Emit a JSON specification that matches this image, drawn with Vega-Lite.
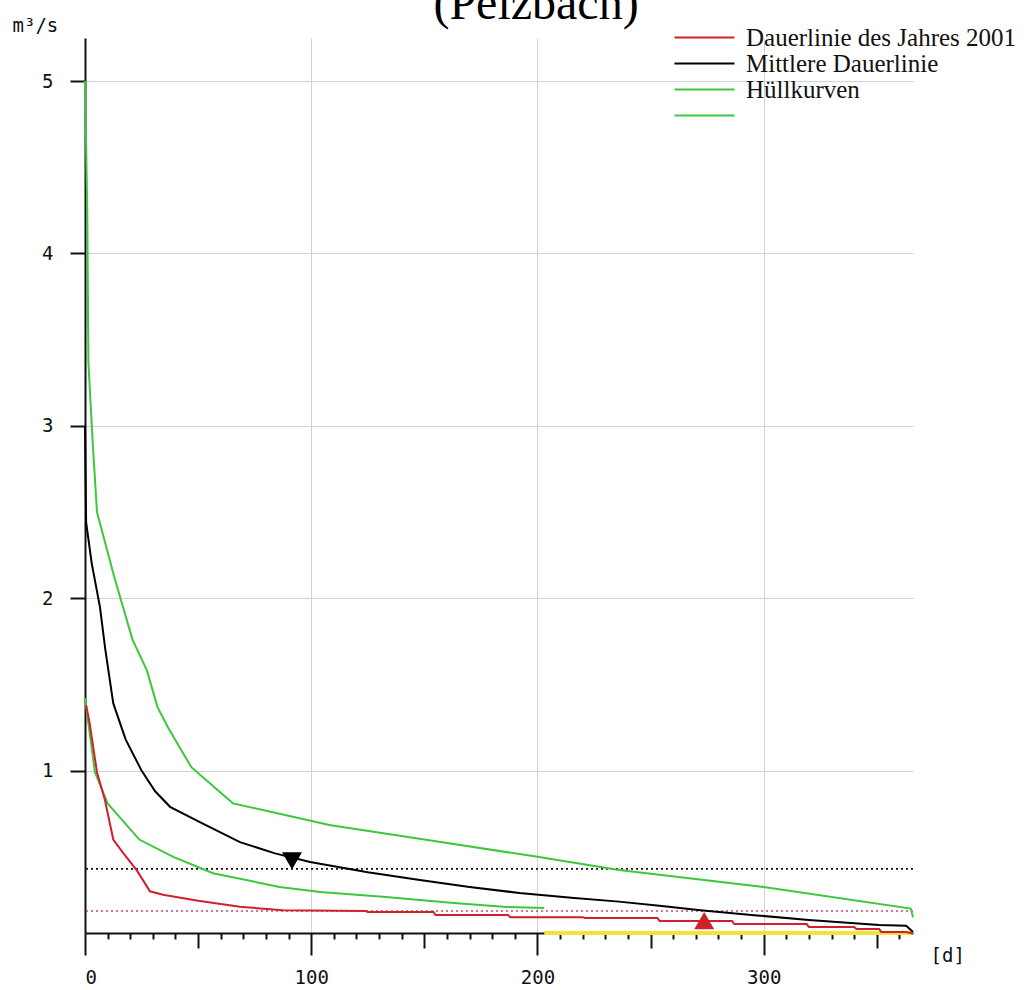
{
  "$schema": "https://vega.github.io/schema/vega-lite/v6.json",
  "width": 828,
  "height": 895,
  "autosize": {"type": "none"},
  "padding": {"left": 85, "top": 38, "right": 122, "bottom": 57},
  "background": "white",
  "title": {
    "text": "(Pelzbach)",
    "font": "Liberation Serif",
    "fontSize": 48,
    "fontWeight": "normal",
    "color": "#000000",
    "anchor": "middle",
    "frame": "group",
    "baseline": "alphabetic",
    "offset": -51,
    "dx": 37
  },
  "datasets": {
    "curves": [
      {"day": 0, "q": 5.0, "curve": "Hüllkurven"},
      {"day": 1, "q": 4.25, "curve": "Hüllkurven"},
      {"day": 1.5, "q": 3.37, "curve": "Hüllkurven"},
      {"day": 3.5, "q": 2.88, "curve": "Hüllkurven"},
      {"day": 5.3, "q": 2.5, "curve": "Hüllkurven"},
      {"day": 13, "q": 2.12, "curve": "Hüllkurven"},
      {"day": 21, "q": 1.76, "curve": "Hüllkurven"},
      {"day": 27.4, "q": 1.58, "curve": "Hüllkurven"},
      {"day": 32, "q": 1.37, "curve": "Hüllkurven"},
      {"day": 36.7, "q": 1.25, "curve": "Hüllkurven"},
      {"day": 47, "q": 1.02, "curve": "Hüllkurven"},
      {"day": 65.4, "q": 0.81, "curve": "Hüllkurven"},
      {"day": 108, "q": 0.685, "curve": "Hüllkurven"},
      {"day": 150, "q": 0.6, "curve": "Hüllkurven"},
      {"day": 200, "q": 0.5, "curve": "Hüllkurven"},
      {"day": 236, "q": 0.424, "curve": "Hüllkurven"},
      {"day": 300, "q": 0.325, "curve": "Hüllkurven"},
      {"day": 365, "q": 0.2, "curve": "Hüllkurven"},
      {"day": 366, "q": 0.15, "curve": "Hüllkurven"},

      {"day": 0, "q": 1.42, "curve": "Hüllkurven unten"},
      {"day": 4.4, "q": 0.99, "curve": "Hüllkurven unten"},
      {"day": 10, "q": 0.81, "curve": "Hüllkurven unten"},
      {"day": 24, "q": 0.6, "curve": "Hüllkurven unten"},
      {"day": 39, "q": 0.5, "curve": "Hüllkurven unten"},
      {"day": 56.6, "q": 0.405, "curve": "Hüllkurven unten"},
      {"day": 86, "q": 0.325, "curve": "Hüllkurven unten"},
      {"day": 104, "q": 0.296, "curve": "Hüllkurven unten"},
      {"day": 133, "q": 0.267, "curve": "Hüllkurven unten"},
      {"day": 163, "q": 0.232, "curve": "Hüllkurven unten"},
      {"day": 185, "q": 0.21, "curve": "Hüllkurven unten"},
      {"day": 203, "q": 0.203, "curve": "Hüllkurven unten"},

      {"day": 0, "q": 3.0, "curve": "Mittlere Dauerlinie"},
      {"day": 0.5, "q": 2.44, "curve": "Mittlere Dauerlinie"},
      {"day": 3, "q": 2.2, "curve": "Mittlere Dauerlinie"},
      {"day": 6.6, "q": 1.95, "curve": "Mittlere Dauerlinie"},
      {"day": 9, "q": 1.7, "curve": "Mittlere Dauerlinie"},
      {"day": 12.5, "q": 1.39, "curve": "Mittlere Dauerlinie"},
      {"day": 18, "q": 1.18, "curve": "Mittlere Dauerlinie"},
      {"day": 25, "q": 1.0, "curve": "Mittlere Dauerlinie"},
      {"day": 31, "q": 0.88, "curve": "Mittlere Dauerlinie"},
      {"day": 37.6, "q": 0.79, "curve": "Mittlere Dauerlinie"},
      {"day": 51, "q": 0.7, "curve": "Mittlere Dauerlinie"},
      {"day": 68.5, "q": 0.585, "curve": "Mittlere Dauerlinie"},
      {"day": 84, "q": 0.52, "curve": "Mittlere Dauerlinie"},
      {"day": 99.5, "q": 0.47, "curve": "Mittlere Dauerlinie"},
      {"day": 125, "q": 0.41, "curve": "Mittlere Dauerlinie"},
      {"day": 148, "q": 0.365, "curve": "Mittlere Dauerlinie"},
      {"day": 170, "q": 0.325, "curve": "Mittlere Dauerlinie"},
      {"day": 192, "q": 0.29, "curve": "Mittlere Dauerlinie"},
      {"day": 215, "q": 0.262, "curve": "Mittlere Dauerlinie"},
      {"day": 236, "q": 0.24, "curve": "Mittlere Dauerlinie"},
      {"day": 255, "q": 0.215, "curve": "Mittlere Dauerlinie"},
      {"day": 272, "q": 0.19, "curve": "Mittlere Dauerlinie"},
      {"day": 297, "q": 0.16, "curve": "Mittlere Dauerlinie"},
      {"day": 320, "q": 0.133, "curve": "Mittlere Dauerlinie"},
      {"day": 351, "q": 0.104, "curve": "Mittlere Dauerlinie"},
      {"day": 363, "q": 0.1, "curve": "Mittlere Dauerlinie"},
      {"day": 366, "q": 0.064, "curve": "Mittlere Dauerlinie"},

      {"day": 0.5, "q": 1.38, "curve": "Dauerlinie des Jahres 2001"},
      {"day": 2, "q": 1.28, "curve": "Dauerlinie des Jahres 2001"},
      {"day": 5.3, "q": 0.99, "curve": "Dauerlinie des Jahres 2001"},
      {"day": 8.8, "q": 0.83, "curve": "Dauerlinie des Jahres 2001"},
      {"day": 12.5, "q": 0.6, "curve": "Dauerlinie des Jahres 2001"},
      {"day": 17, "q": 0.52, "curve": "Dauerlinie des Jahres 2001"},
      {"day": 23, "q": 0.42, "curve": "Dauerlinie des Jahres 2001"},
      {"day": 28.7, "q": 0.3, "curve": "Dauerlinie des Jahres 2001"},
      {"day": 34.5, "q": 0.28, "curve": "Dauerlinie des Jahres 2001"},
      {"day": 50, "q": 0.245, "curve": "Dauerlinie des Jahres 2001"},
      {"day": 68.5, "q": 0.21, "curve": "Dauerlinie des Jahres 2001"},
      {"day": 87.5, "q": 0.19, "curve": "Dauerlinie des Jahres 2001"},
      {"day": 124, "q": 0.186, "curve": "Dauerlinie des Jahres 2001"},
      {"day": 125, "q": 0.18, "curve": "Dauerlinie des Jahres 2001"},
      {"day": 154, "q": 0.18, "curve": "Dauerlinie des Jahres 2001"},
      {"day": 155, "q": 0.162, "curve": "Dauerlinie des Jahres 2001"},
      {"day": 187, "q": 0.162, "curve": "Dauerlinie des Jahres 2001"},
      {"day": 188, "q": 0.15, "curve": "Dauerlinie des Jahres 2001"},
      {"day": 220, "q": 0.15, "curve": "Dauerlinie des Jahres 2001"},
      {"day": 221, "q": 0.145, "curve": "Dauerlinie des Jahres 2001"},
      {"day": 253, "q": 0.145, "curve": "Dauerlinie des Jahres 2001"},
      {"day": 254, "q": 0.128, "curve": "Dauerlinie des Jahres 2001"},
      {"day": 286, "q": 0.128, "curve": "Dauerlinie des Jahres 2001"},
      {"day": 287, "q": 0.11, "curve": "Dauerlinie des Jahres 2001"},
      {"day": 319, "q": 0.11, "curve": "Dauerlinie des Jahres 2001"},
      {"day": 320, "q": 0.093, "curve": "Dauerlinie des Jahres 2001"},
      {"day": 340, "q": 0.093, "curve": "Dauerlinie des Jahres 2001"},
      {"day": 341, "q": 0.081, "curve": "Dauerlinie des Jahres 2001"},
      {"day": 351, "q": 0.081, "curve": "Dauerlinie des Jahres 2001"},
      {"day": 352, "q": 0.064, "curve": "Dauerlinie des Jahres 2001"},
      {"day": 363, "q": 0.064, "curve": "Dauerlinie des Jahres 2001"},
      {"day": 366, "q": 0.055, "curve": "Dauerlinie des Jahres 2001"}
    ],
    "levels": [
      {"name": "MQ", "q": 0.43},
      {"name": "Q2001", "q": 0.186}
    ],
    "markers": [
      {"day": 91.5, "q": 0.476, "curve": "Mittlere Dauerlinie", "dir": "down"},
      {"day": 273.7, "q": 0.13, "curve": "Dauerlinie des Jahres 2001", "dir": "up"}
    ],
    "lowflow": [
      {"day": 203, "q": 0.058},
      {"day": 366, "q": 0.058}
    ]
  },
  "layer": [
    {
      "data": {"name": "levels"},
      "transform": [{"filter": "datum.name === 'MQ'"}],
      "mark": {"type": "rule", "color": "#111111", "strokeWidth": 1.6, "strokeDash": [2, 3]},
      "encoding": {
        "y": {"field": "q", "type": "quantitative"}
      }
    },
    {
      "data": {"name": "levels"},
      "transform": [{"filter": "datum.name === 'Q2001'"}],
      "mark": {"type": "rule", "color": "#c04a70", "strokeWidth": 1.6, "strokeDash": [2, 3]},
      "encoding": {
        "y": {"field": "q", "type": "quantitative"}
      }
    },
    {
      "data": {"name": "lowflow"},
      "mark": {"type": "line", "color": "#f0e43a", "strokeWidth": 4},
      "encoding": {
        "x": {
          "field": "day", "type": "quantitative",
          "axis": {
            "orient": "bottom",
            "values": [10, 20, 30, 40, 60, 70, 80, 90, 110, 120, 130, 140, 160, 170, 180, 190, 210, 220, 230, 240, 260, 270, 280, 290, 310, 320, 330, 340, 360],
            "labels": false, "domain": false, "grid": false, "title": null,
            "ticks": true, "tickSize": 6, "tickWidth": 2, "tickColor": "#111111"
          }
        },
        "y": {"field": "q", "type": "quantitative"}
      }
    },
    {
      "data": {"name": "curves"},
      "mark": {"type": "line", "strokeWidth": 2},
      "encoding": {
        "x": {
          "field": "day", "type": "quantitative",
          "scale": {"domain": [0, 366], "nice": false, "zero": false},
          "axis": {
            "orient": "bottom",
            "values": [0, 100, 200, 300],
            "format": "d",
            "grid": true, "gridColor": "#d2d2d2", "gridWidth": 1,
            "domain": true, "domainColor": "#111111", "domainWidth": 2,
            "ticks": true, "tickSize": 22, "tickWidth": 2, "tickColor": "#111111",
            "labels": true, "labelFont": "DejaVu Sans Mono", "labelFontSize": 19, "labelColor": "#111111", "labelPadding": 13,
            "title": "[d]", "titleFont": "DejaVu Sans Mono", "titleFontSize": 19, "titleFontWeight": "normal", "titleColor": "#111111",
            "titleX": 845, "titleY": 22, "titleAlign": "left", "titleBaseline": "middle", "titleAngle": 0
          }
        },
        "y": {
          "field": "q", "type": "quantitative",
          "scale": {"domain": [0.058, 5.25], "nice": false, "zero": false},
          "axis": {
            "values": [1, 2, 3, 4, 5],
            "format": "d",
            "grid": true, "gridColor": "#d2d2d2", "gridWidth": 1,
            "domain": true, "domainColor": "#111111", "domainWidth": 2,
            "ticks": true, "tickSize": 15, "tickWidth": 2, "tickColor": "#111111",
            "labelFont": "DejaVu Sans Mono", "labelFontSize": 19, "labelColor": "#111111", "labelPadding": 17,
            "title": "m³/s", "titleFont": "DejaVu Sans Mono", "titleFontSize": 19, "titleFontWeight": "normal", "titleColor": "#111111",
            "titleAngle": 0, "titleX": -73, "titleY": -7, "titleAlign": "left", "titleBaseline": "alphabetic"
          }
        },
        "color": {
          "field": "curve", "type": "nominal",
          "scale": {
            "domain": ["Dauerlinie des Jahres 2001", "Mittlere Dauerlinie", "Hüllkurven", "Hüllkurven unten"],
            "range": ["#d0202c", "#000000", "#3cc83c", "#3cc83c"]
          },
          "legend": {
            "orient": "none", "legendX": 587, "legendY": -13,
            "title": null, "padding": 0,
            "symbolType": "M-1,0L5,0", "symbolSize": 400, "symbolStrokeWidth": 2,
            "labelFont": "Liberation Serif", "labelFontSize": 25, "labelColor": "#111111",
            "labelOffset": 49, "labelLimit": 400, "rowPadding": 0,
            "labelExpr": "datum.label === 'Hüllkurven unten' ? '' : datum.label"
          }
        }
      }
    },
    {
      "data": {"name": "markers"},
      "mark": {"type": "point", "filled": true, "opacity": 1, "size": 400},
      "encoding": {
        "x": {
          "field": "day", "type": "quantitative",
          "axis": {
            "orient": "bottom",
            "values": [50, 150, 250, 350],
            "labels": false, "domain": false, "grid": false, "title": null,
            "ticks": true, "tickSize": 15, "tickWidth": 2, "tickColor": "#111111"
          }
        },
        "y": {"field": "q", "type": "quantitative"},
        "color": {"field": "curve", "type": "nominal"},
        "shape": {
          "field": "dir", "type": "nominal",
          "scale": {"domain": ["down", "up"], "range": ["triangle-down", "triangle-up"]},
          "legend": null
        }
      }
    }
  ],
  "resolve": {"axis": {"x": "independent"}},
  "config": {
    "view": {"stroke": null},
    "axis": {"labelFontWeight": "normal"}
  }
}
